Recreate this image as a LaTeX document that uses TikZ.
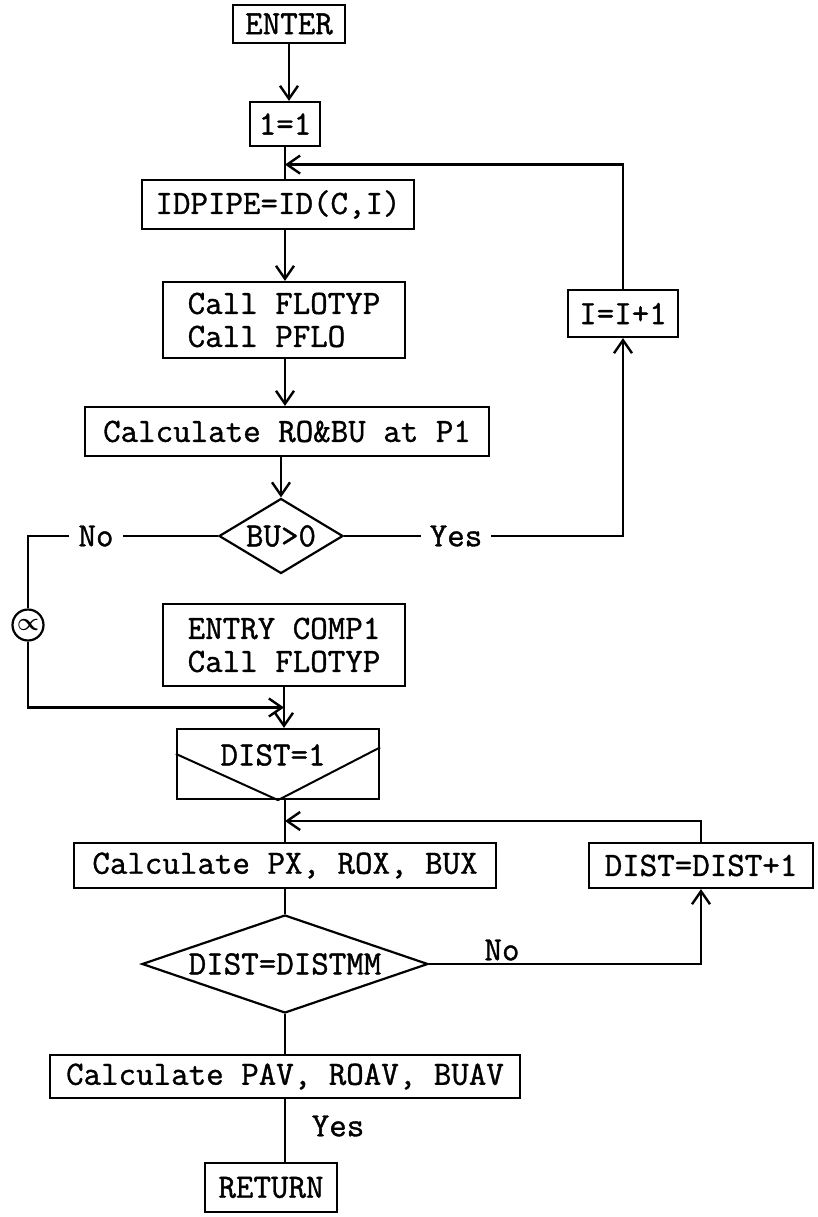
\documentclass[tikz,border=0pt]{standalone}
\usepackage{fontspec}
\newfontfamily\tw{Latin Modern Mono}[FakeBold=1.1]
\usetikzlibrary{shapes.geometric,arrows.meta,calc}
\begin{document}
\begin{tikzpicture}[x=1pt,y=-1pt,line width=2.4pt,
 every node/.style={font=\tw\fontsize{34}{33}\selectfont, inner sep=0pt},
 pbox/.style={draw, rectangle, line width=2.2pt},
 dec/.style={draw, diamond, line width=2.2pt, inner sep=0pt},
 lbl/.style={inner sep=8pt},
 flow/.style={-{Straight Barb[length=13pt,width=18pt]}}]
\useasboundingbox (0,0) rectangle (817,1217);
\fill[white] (0,0) rectangle (817,1217);

% upper part
\node[pbox, minimum width=112pt, minimum height=38pt] (enter) at (289,24) {ENTER};
\node[pbox, minimum width=70pt, minimum height=44pt] (one) at (285,124) {1=1};
\node[pbox, minimum width=272pt, minimum height=49pt] (idpipe) at (278,204.5) {IDPIPE=ID(C,I)};
\node[pbox, minimum width=242pt, minimum height=76pt, align=left] (call) at (284,320) {Call FLOTYP\\Call PFLO};
\node[pbox, minimum width=404pt, minimum height=49pt] (calcro) at (287,431.5) {Calculate RO\&BU at P1};
\node[dec, minimum width=124pt, minimum height=75pt, aspect=1.65] (bu) at (281,536) {BU>0};
\node[lbl] (no1) at (96,536) {No};
\node[lbl] (yes1) at (456,536) {Yes};
\node[pbox, minimum width=110pt, minimum height=47pt] (inc) at (623,313.5) {I=I+1};
\node[draw, circle, minimum size=31pt, line width=2.2pt, font=\fontsize{30}{30}\selectfont\boldmath] (alpha) at (28,625) {$\propto$};

% lower part
\node[pbox, minimum width=242pt, minimum height=82pt, align=left] (entry) at (284,645) {ENTRY COMP1\\Call FLOTYP};
\node[pbox, minimum width=202pt, minimum height=70pt] (d1) at (278,764) {};
\node (d1t) at (273,755) {DIST=1};
\draw[line width=2pt] ($(d1.north west)!0.36!(d1.south west)$) -- (d1.south) -- ($(d1.north east)!0.27!(d1.south east)$);
\node[pbox, minimum width=422pt, minimum height=45pt] (calcpx) at (285,865.5) {Calculate PX, ROX, BUX};
\node[pbox, minimum width=224pt, minimum height=45pt] (dinc) at (701,865.5) {DIST=DIST+1};
\node[dec, minimum width=286pt, minimum height=98pt, aspect=2.9] (dmm) at (285,964) {DIST=DISTMM};
\node[lbl] (no2) at (502,950) {No};
\node[pbox, minimum width=470pt, minimum height=43pt] (pav) at (285,1076.5) {Calculate PAV, ROAV, BUAV};
\node[lbl] (yes2) at (338,1126) {Yes};
\node[pbox, minimum width=132pt, minimum height=49pt] (ret) at (271,1187.5) {RETURN};

% connectors upper
\draw[flow] (enter.south) -- (enter.south |- one.north);
\draw (one.south) -- (one.south |- idpipe.north);
\coordinate (j0) at ($(one.south)!0.55!(one.south |- idpipe.north)$);
\draw[flow] (inc.north) |- (j0);
\draw[flow] (idpipe.south -| one.south) -- (one.south |- call.north);
\draw[flow] (call.south -| one.south) -- (one.south |- calcro.north);
\draw[flow] (calcro.south -| bu.north) -- (bu.north);
\draw (bu.west) -- (bu.west -| no1.east);
\draw (no1.west) -| (alpha.north);
\coordinate (j1) at ($(entry.south)!0.5!(entry.south |- d1.north)$);
\draw[flow] (alpha.south) |- (j1);
\draw[flow] (entry.south) -- (entry.south |- d1.north);
\draw (bu.east) -- (bu.east -| yes1.west);
\draw[flow] (yes1.east) -| (inc.south);

% connectors lower
\draw (d1.south -| calcpx.north) -- (calcpx.north);
\coordinate (j2) at ($(calcpx.north |- d1.south)!0.5!(calcpx.north)$);
\draw[flow] (dinc.north) |- (j2);
\draw (calcpx.south) -- (dmm.north);
\draw[flow] (dmm.east) -| (dinc.south);
\draw (dmm.south) -- (pav.north);
\draw (pav.south) -- (pav.south |- ret.north);
\end{tikzpicture}
\end{document}
